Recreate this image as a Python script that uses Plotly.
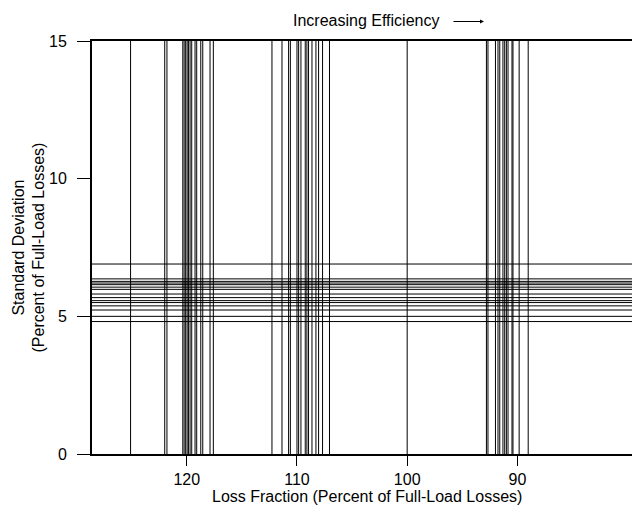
import plotly.graph_objects as go

# Loss fraction of each unit (percent of full-load losses)
loss_fraction = [
    125.1, 122.0, 121.8, 120.36, 120.24, 120.1, 119.97, 119.85, 119.7, 119.55,
    119.25, 119.1, 118.73, 118.55, 117.89, 117.59,
    112.27, 111.36, 110.76, 110.6, 110.0, 109.85, 109.64, 109.25, 109.1, 108.95,
    108.64, 108.28, 108.04, 107.68, 107.05,
    100.0,
    92.81, 92.67, 91.99, 91.76, 91.6, 91.31, 91.15, 91.0, 90.85, 90.49, 90.4,
    89.84, 89.02,
]

# Standard deviation of each unit (percent of full-load losses)
std_dev = [
    6.90, 6.36, 6.27, 6.21, 6.15, 6.06, 5.98, 5.81, 5.68, 5.57, 5.50, 5.38,
    5.23, 5.00, 4.81,
]

x_range = [128.6, 79.6]
y_range = [0, 15]
x_ticks = [120, 110, 100, 90]
y_ticks = [0, 5, 10, 15]

vx, vy = [], []
for v in loss_fraction:
    vx += [v, v, None]
    vy += [y_range[0], y_range[1], None]

hx, hy = [], []
for s in std_dev:
    hx += [x_range[0], x_range[1], None]
    hy += [s, s, None]

fig = go.Figure()
fig.add_trace(go.Scatter(x=vx, y=vy, mode="lines",
                         line=dict(color="black", width=1), hoverinfo="skip"))
fig.add_trace(go.Scatter(x=hx, y=hy, mode="lines",
                         line=dict(color="black", width=1), hoverinfo="skip"))

font = dict(family="Liberation Sans, Arial, sans-serif", size=16, color="black")

fig.update_layout(
    width=632, height=506,
    margin=dict(l=92, r=0, t=41, b=52),
    paper_bgcolor="white", plot_bgcolor="white",
    showlegend=False,
    font=font,
    xaxis=dict(
        range=x_range, autorange=False,
        tickmode="array", tickvals=x_ticks, ticktext=[str(t) for t in x_ticks],
        ticks="outside", ticklen=10, tickwidth=1, tickcolor="black",
        showline=True, linecolor="black", linewidth=2, mirror=True,
        showgrid=False, zeroline=False,
    ),
    yaxis=dict(
        range=y_range, autorange=False,
        tickmode="array", tickvals=y_ticks, ticktext=[str(t) for t in y_ticks],
        ticks="outside", ticklen=13, tickwidth=1, tickcolor="black",
        ticklabelstandoff=7,
        showline=True, linecolor="black", linewidth=2,
        showgrid=False, zeroline=False,
    ),
    annotations=[
        dict(text="Loss Fraction (Percent of Full-Load Losses)",
             xref="paper", yref="paper", x=(367 - 92) / 540,
             y=-(496 - 454) / 413,
             xanchor="center", yanchor="middle", showarrow=False, font=font),
        dict(text="Standard Deviation<br>(Percent of Full-Load Losses)",
             xref="paper", yref="paper", x=-(92 - 28) / 540, y=0.5,
             xanchor="center", yanchor="middle", textangle=-90,
             showarrow=False, font=font),
        dict(text="Increasing Efficiency",
             xref="paper", yref="paper", x=(441 - 92) / 540,
             y=(454 - 20.5) / 413,
             xanchor="right", yanchor="middle", showarrow=False, font=font),
        dict(text="", xref="paper", yref="paper",
             x=(484 - 92) / 540, y=(454 - 21.5) / 413, ax=-32, ay=0,
             axref="pixel", ayref="pixel", showarrow=True,
             arrowhead=2, arrowsize=0.8, arrowwidth=1, arrowcolor="black"),
    ],
)

fig.write_html("out.html")
